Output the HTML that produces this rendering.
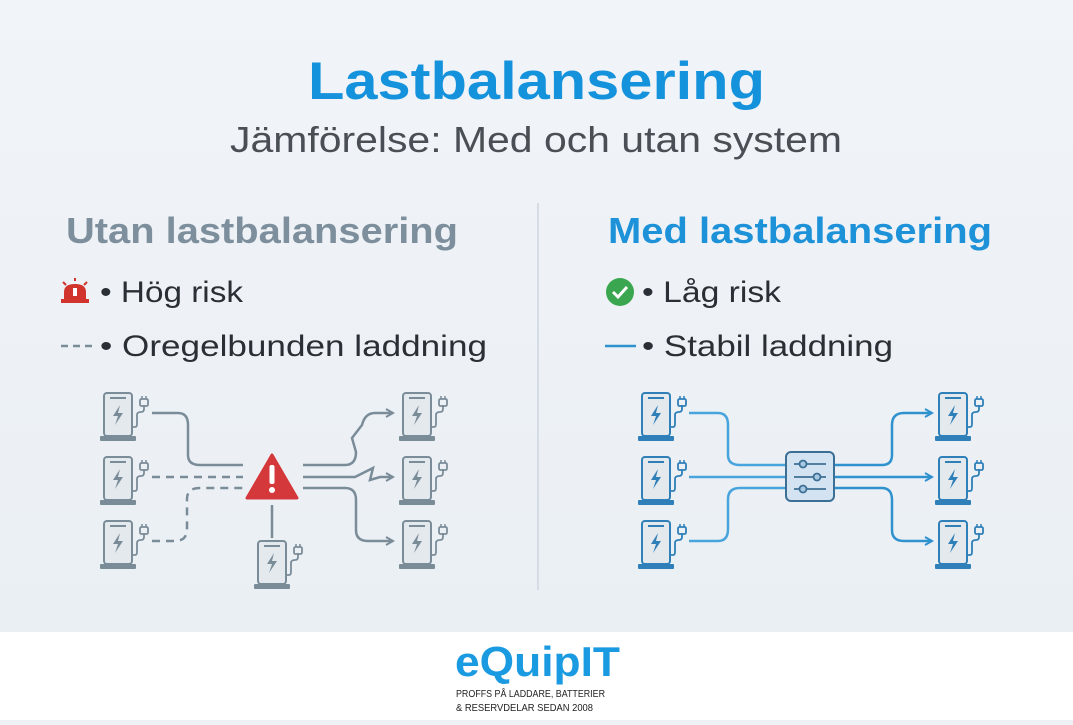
<!DOCTYPE html>
<html><head><meta charset="utf-8"><style>
body{margin:0;width:1073px;height:720px;overflow:hidden;font-family:"Liberation Sans",sans-serif;background:#eef2f6}
</style></head><body>
<svg width="1073" height="720" viewBox="0 0 1073 720" xmlns="http://www.w3.org/2000/svg" font-family="Liberation Sans, sans-serif">
<defs>
<linearGradient id="bg" x1="0" y1="0" x2="0" y2="1"><stop offset="0" stop-color="#f1f4f8"/><stop offset="1" stop-color="#eaeff4"/></linearGradient>
<g id="chg">
 <rect x="3" y="0" width="28" height="43" rx="3" fill="#e4e9ee" stroke="currentColor" stroke-width="2"/>
 <line x1="9" y1="5" x2="25" y2="5" stroke="currentColor" stroke-width="2"/>
 <path d="M19 12 L12 23 H17 L14 32 L22 20 H17 Z" fill="currentColor"/>
 <rect x="-1" y="43" width="36" height="5" rx="1" fill="currentColor"/>
 <path d="M31 34 H34 Q36 34 36 31 V22 Q36 19 40 19 Q43 19 43 16 V12" fill="none" stroke="currentColor" stroke-width="1.8"/>
 <rect x="39" y="6" width="8" height="7" rx="1.5" fill="none" stroke="currentColor" stroke-width="1.8"/>
 <line x1="41" y1="3" x2="41" y2="6" stroke="currentColor" stroke-width="1.5"/><line x1="45" y1="3" x2="45" y2="6" stroke="currentColor" stroke-width="1.5"/>
</g>
<marker id="ag" viewBox="0 0 10 10" refX="8" refY="5" markerWidth="4" markerHeight="4" orient="auto"><path d="M1 1 L8 5 L1 9" fill="none" stroke="#7b8c99" stroke-width="2"/></marker>
<marker id="ab" viewBox="0 0 10 10" refX="8" refY="5" markerWidth="4" markerHeight="4" orient="auto"><path d="M1 1 L8 5 L1 9" fill="none" stroke="#2f92cf" stroke-width="2"/></marker>
</defs>
<rect width="1073" height="632" fill="url(#bg)"/>
<rect y="632" width="1073" height="88" fill="#ffffff"/>
<line x1="538" y1="203" x2="538" y2="590" stroke="#cfd6dd" stroke-width="1.5"/>

<text x="308" y="99" font-size="53" font-weight="bold" fill="#1592dc" textLength="457" lengthAdjust="spacingAndGlyphs">Lastbalansering</text>
<text x="230" y="152" font-size="36" fill="#4a4f55" textLength="612" lengthAdjust="spacingAndGlyphs">Jämförelse: Med och utan system</text>

<text x="66" y="243" font-size="36" font-weight="bold" fill="#7d8f9c" textLength="392" lengthAdjust="spacingAndGlyphs">Utan lastbalansering</text>
<text x="608" y="243" font-size="36" font-weight="bold" fill="#1d92d8" textLength="384" lengthAdjust="spacingAndGlyphs">Med lastbalansering</text>

<!-- left legend -->
<g>
 <path d="M64 300 V292 Q64 284 75 284 Q86 284 86 292 V300 Z" fill="#d0342c"/>
 <rect x="61" y="299" width="28" height="4" fill="#d0342c"/>
 <rect x="73" y="288" width="4" height="8" fill="#fff"/>
 <line x1="75" y1="278" x2="75" y2="281" stroke="#d0342c" stroke-width="2"/>
 <line x1="63" y1="282" x2="66" y2="285" stroke="#d0342c" stroke-width="2"/>
 <line x1="87" y1="282" x2="84" y2="285" stroke="#d0342c" stroke-width="2"/>
</g>
<text x="100" y="302" font-size="30" fill="#2a2f35" textLength="143" lengthAdjust="spacingAndGlyphs">• Hög risk</text>
<line x1="61" y1="346" x2="93" y2="346" stroke="#7b8c99" stroke-width="2.5" stroke-dasharray="7 5"/>
<text x="100" y="356" font-size="30" fill="#2a2f35" textLength="387" lengthAdjust="spacingAndGlyphs">• Oregelbunden laddning</text>

<!-- right legend -->
<circle cx="620" cy="292" r="14" fill="#3aa64f"/>
<path d="M613 292 L618 297 L627 287" fill="none" stroke="#fff" stroke-width="3"/>
<text x="642" y="302" font-size="30" fill="#2a2f35" textLength="139" lengthAdjust="spacingAndGlyphs">• Låg risk</text>
<line x1="605" y1="346" x2="636" y2="346" stroke="#2f92cf" stroke-width="2.5"/>
<text x="642" y="356" font-size="30" fill="#2a2f35" textLength="251" lengthAdjust="spacingAndGlyphs">• Stabil laddning</text>

<!-- left diagram -->
<g color="#7b8c99">
 <use href="#chg" x="101" y="393"/><use href="#chg" x="101" y="457"/><use href="#chg" x="101" y="521"/>
 <use href="#chg" x="400" y="393"/><use href="#chg" x="400" y="457"/><use href="#chg" x="400" y="521"/>
 <use href="#chg" x="255" y="541"/>
</g>
<g fill="none" stroke="#7b8c99" stroke-width="2.5">
 <path d="M152 413 H178 Q188 413 188 425 V455 Q188 465 200 465 H243"/>
 <path d="M152 477 H243" stroke-dasharray="8 6"/>
 <path d="M152 541 H175 Q187 541 187 529 V499 Q187 488 200 488 H243" stroke-dasharray="8 6"/>
 <line x1="272" y1="505" x2="272" y2="538"/>
 <path d="M303 465 H345 Q356 465 356 452 L352 438 L362 425 Q365 413 375 413 H393" marker-end="url(#ag)"/>
 <path d="M303 477 H355 L373 468 L370 480 L380 477 H393" marker-end="url(#ag)"/>
 <path d="M303 488 H345 Q356 488 356 500 V530 Q356 541 368 541 H393" marker-end="url(#ag)"/>
</g>
<path d="M272 455 L297 498 H247 Z" fill="#d4383a" stroke="#d4383a" stroke-width="3" stroke-linejoin="round"/>
<rect x="269.5" y="465" width="5" height="19" rx="2" fill="#fff"/>
<circle cx="272" cy="490" r="3" fill="#fff"/>

<!-- right diagram -->
<g color="#2f7fb8">
 <use href="#chg" x="639" y="393"/><use href="#chg" x="639" y="457"/><use href="#chg" x="639" y="521"/>
 <use href="#chg" x="936" y="393"/><use href="#chg" x="936" y="457"/><use href="#chg" x="936" y="521"/>
</g>
<g fill="none" stroke="#48a4dc" stroke-width="2.5">
 <path d="M689 413 H718 Q728 413 728 425 V455 Q728 465 740 465 H786"/>
 <path d="M689 477 H786"/>
 <path d="M689 541 H718 Q728 541 728 529 V499 Q728 488 740 488 H786"/>
</g>
<g fill="none" stroke="#2f92cf" stroke-width="2.5">
 <path d="M834 465 H882 Q892 465 892 455 V425 Q892 413 904 413 H932" marker-end="url(#ab)"/>
 <path d="M834 477 H932" marker-end="url(#ab)"/>
 <path d="M834 488 H882 Q892 488 892 500 V530 Q892 541 904 541 H932" marker-end="url(#ab)"/>
</g>
<rect x="786" y="452" width="48" height="49" rx="5" fill="#d3e3f1" stroke="#3c6f95" stroke-width="2"/>
<g stroke="#3c6f95" stroke-width="1.8" fill="#a9c9e3">
 <line x1="794" y1="464" x2="826" y2="464"/><line x1="794" y1="477" x2="826" y2="477"/><line x1="794" y1="489" x2="826" y2="489"/>
 <circle cx="803" cy="464" r="3.5"/><circle cx="817" cy="477" r="3.5"/><circle cx="803" cy="489" r="3.5"/>
</g>

<!-- logo -->
<text x="455" y="676" font-size="42" font-weight="bold" fill="#1a9ae0" textLength="165" lengthAdjust="spacingAndGlyphs">eQuipIT</text>
<text x="456" y="697" font-size="10" fill="#222" textLength="149" lengthAdjust="spacingAndGlyphs">PROFFS PÅ LADDARE, BATTERIER</text>
<text x="456" y="711" font-size="10" fill="#222" textLength="137" lengthAdjust="spacingAndGlyphs">&amp; RESERVDELAR SEDAN 2008</text>
</svg>
</body></html>
